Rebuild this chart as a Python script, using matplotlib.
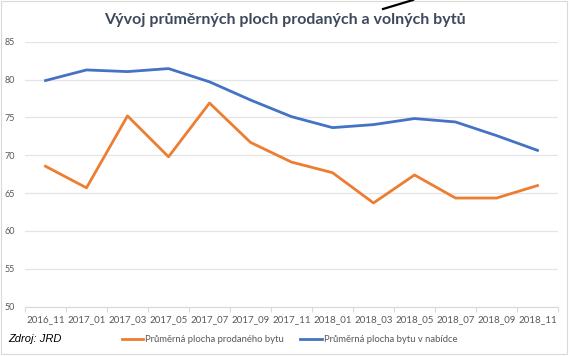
import matplotlib
matplotlib.use("Agg")
import matplotlib.pyplot as plt
from matplotlib.patches import Rectangle
from matplotlib.lines import Line2D

categories = ["2016_11", "2017_01", "2017_03", "2017_05", "2017_07", "2017_09", "2017_11",
              "2018_01", "2018_03", "2018_05", "2018_07", "2018_09", "2018_11"]
sold = [68.55, 65.7, 75.2, 69.8, 76.9, 71.7, 69.1, 67.7, 63.7, 67.4, 64.35, 64.35, 66.0]
offered = [79.87, 81.27, 81.05, 81.45, 79.7, 77.3, 75.1, 73.65, 74.05, 74.85, 74.4, 72.6, 70.65]
yticks = [50, 55, 60, 65, 70, 75, 80, 85]
title = "Vývoj průměrných ploch prodaných a volných bytů"
label_sold = "Průměrná plocha prodaného bytu"
label_offered = "Průměrná plocha bytu v nabídce"
source = "Zdroj: JRD"

FONT = ["Lato", "DejaVu Sans"]
W, H = 570, 356
fig = plt.figure(figsize=(W / 100, H / 100), dpi=100)
fig.patch.set_facecolor("white")

# chart border
fig.patches.append(Rectangle((1 / W, 1 - 354 / H), 566 / W, 353.5 / H, transform=fig.transFigure,
                             fill=False, edgecolor="#D9D9D9", linewidth=0.8))

ax = fig.add_axes([25 / W, 1 - 306.7 / H, 533 / W, 265 / H])
x = list(range(len(categories)))
ax.plot(x, sold, color="#ED7D31", lw=2.0, solid_joinstyle="round")
ax.plot(x, offered, color="#4472C4", lw=2.0, solid_joinstyle="round")

ax.set_xlim(-0.5, len(categories) - 0.5)
ax.set_ylim(50, 85)
ax.set_yticks(yticks)
ax.set_yticklabels([str(v) for v in yticks], family=FONT)
for sp in ["top", "right", "left"]:
    ax.spines[sp].set_visible(False)
ax.spines["bottom"].set_color("#D9D9D9")
ax.spines["bottom"].set_linewidth(0.8)
ax.grid(axis="y", color="#E4E4E4", lw=0.9)
ax.set_axisbelow(True)
ax.tick_params(axis="y", length=0, labelsize=6.5, labelcolor="#595959", pad=7)

ax.set_xticks([i - 0.5 for i in range(len(categories) + 1)], minor=False)
ax.set_xticklabels([""] * (len(categories) + 1))
ax.tick_params(axis="x", which="major", length=3.5, color="#D9D9D9", width=0.8)
ax.set_xticks(x, minor=True)
ax.set_xticklabels(categories, minor=True, family=FONT)
ax.tick_params(axis="x", which="minor", length=0, labelsize=7, labelcolor="#595959", pad=6)

fig.text(285 / W, 1 - 20 / H, title, ha="center", va="center", fontsize=11.5,
         fontweight="bold", color="#3E4A5C", family=FONT)

# decorative line at top
fig.add_artist(Line2D([383 / W, 413 / W], [1 - 9 / H, 1 - 0 / H], transform=fig.transFigure,
                      color="black", lw=1.6))

fig.text(8 / W, 1 - 339 / H, source, ha="left", va="center", fontsize=8, style="italic",
         color="black", family=["Liberation Sans", "DejaVu Sans"])

ly = 1 - 339 / H
fig.add_artist(Line2D([122 / W, 143 / W], [ly, ly], transform=fig.transFigure, color="#ED7D31", lw=2))
fig.text(145 / W, ly, label_sold, ha="left", va="center", fontsize=6.8, color="#595959", family=FONT)
fig.add_artist(Line2D([300 / W, 322 / W], [ly, ly], transform=fig.transFigure, color="#4472C4", lw=2))
fig.text(324 / W, ly, label_offered, ha="left", va="center", fontsize=6.8, color="#595959", family=FONT)

fig.savefig("out.png", dpi=100, facecolor="white")
